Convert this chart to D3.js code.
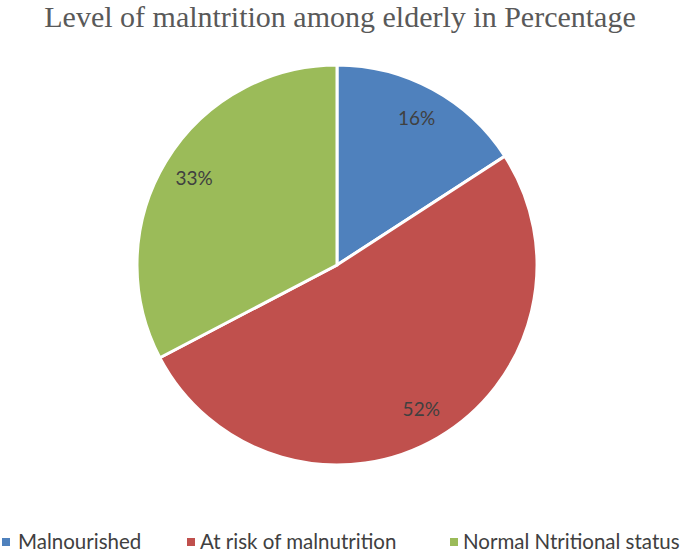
<!DOCTYPE html>
<html>
<head>
<meta charset="utf-8">
<script src="https://cdn.jsdelivr.net/npm/d3@7"></script>
<style>
    body { margin: 0; background: #fff; }
</style>
</head>
<body>
<div id="chart"></div>
<script>
// chart data
const categories = ["Malnourished", "At risk of malnutrition", "Normal Ntritional status"];
const shares = [16, 52, 33];
const sliceLabels = ["16%", "52%", "33%"];
const palette = ["#4F81BD", "#C0504D", "#9BBB59"];

const width = 685;
const height = 554;
const center = {x: 337, y: 265};
const radius = 200;

const data = categories.map((c, i) => ({name: c, value: shares[i], label: sliceLabels[i]}));

let svg = d3.select("#chart").append("svg")
            .attr("width", width)
            .attr("height", height);

svg.append("text")
   .attr("x", 340)
   .attr("y", 27)
   .attr("text-anchor", "middle")
   .attr("font-family", "'Liberation Serif', 'Times New Roman', serif")
   .attr("font-size", 30)
   .attr("fill", "#595959")
   .text("Level of malntrition among elderly in Percentage");

const color = d3.scaleOrdinal().domain(categories).range(palette);
const pie = d3.pie().sort(null).value(d => d.value);
const arc = d3.arc().innerRadius(0).outerRadius(radius);
const labelArc = d3.arc().innerRadius(radius * 0.835).outerRadius(radius * 0.835);

let g = svg.append("g")
           .attr("transform", `translate(${center.x}, ${center.y})`);

let slices = g.selectAll(".slice")
              .data(pie(data))
              .enter()
              .append("g")
              .attr("class", "slice");

slices.append("path")
      .attr("d", arc)
      .attr("fill", d => color(d.data.name))
      .attr("stroke", "#fff")
      .attr("stroke-width", 3);

slices.append("text")
      .attr("transform", d => `translate(${labelArc.centroid(d)})`)
      .attr("text-anchor", "middle")
      .attr("dy", "0.35em")
      .attr("font-family", "Lato, 'Open Sans', sans-serif")
      .attr("font-size", 19)
      .attr("fill", "#404040")
      .text(d => d.data.label);

// legend along the bottom edge
const legendX = [2, 187, 450];
let legend = svg.append("g")
                .attr("class", "legend");
let items = legend.selectAll("g")
                  .data(categories)
                  .enter()
                  .append("g")
                  .attr("transform", (d, i) => `translate(${legendX[i]}, 542)`);
items.append("rect")
     .attr("x", 0)
     .attr("y", -4)
     .attr("width", 8)
     .attr("height", 8)
     .attr("fill", d => color(d));
items.append("text")
     .attr("x", (d, i) => i === 0 ? 16 : 13)
     .attr("dy", "0.35em")
     .attr("font-family", "Lato, 'Open Sans', sans-serif")
     .attr("font-size", 20.5)
     .attr("fill", "#404040")
     .text(d => d);
</script>
</body>
</html>
